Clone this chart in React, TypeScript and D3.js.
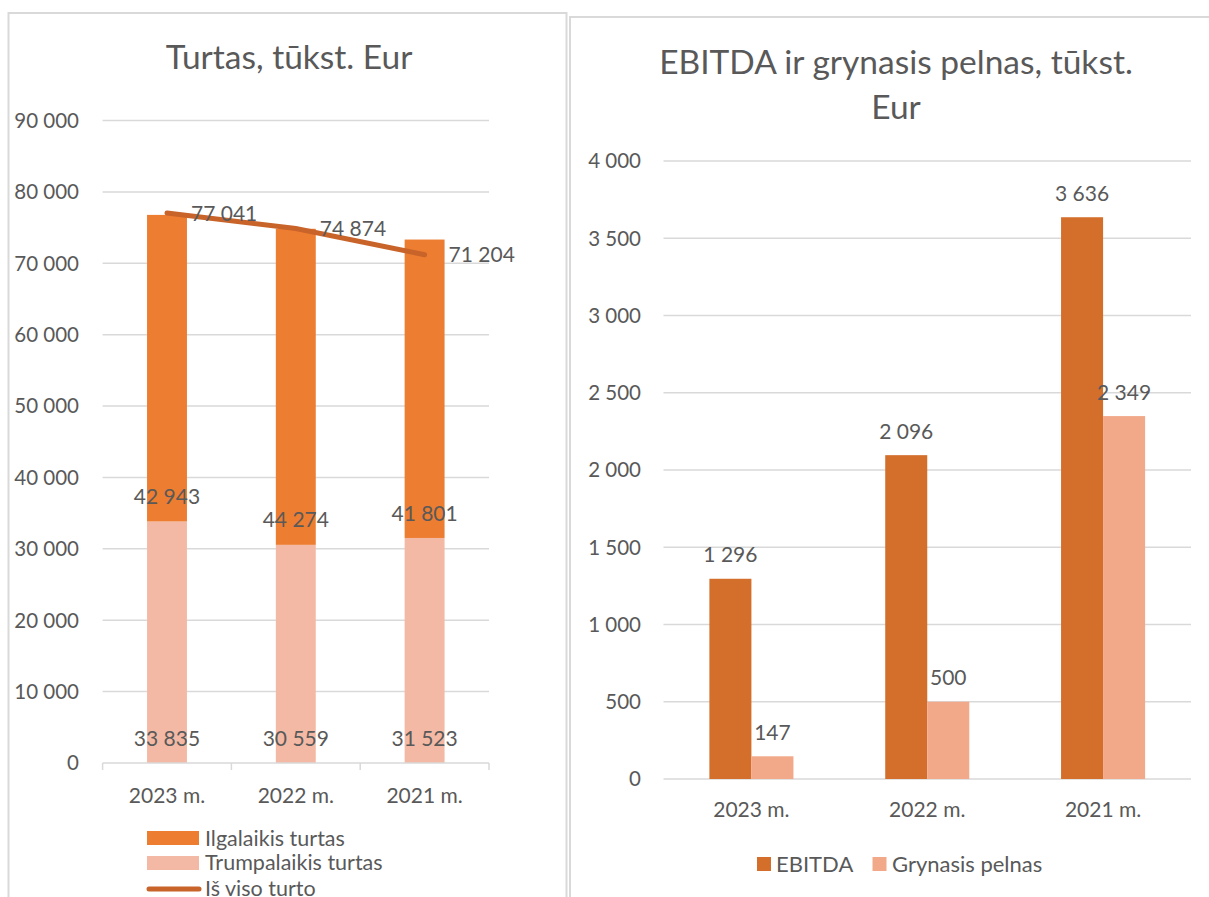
import React from "react";
import * as d3 from "d3";

// left chart data (tūkst. Eur)
const years = ["2023 m.", "2022 m.", "2021 m."];
const ilgalaikis = [42943, 44274, 41801];
const trumpalaikis = [33835, 30559, 31523];
const isViso = [77041, 74874, 71204];
const turtasTicks = [0, 10000, 20000, 30000, 40000, 50000, 60000, 70000, 80000, 90000];

// right chart data
const ebitda = [1296, 2096, 3636];
const grynasis = [147, 500, 2349];
const pelnasTicks = [0, 500, 1000, 1500, 2000, 2500, 3000, 3500, 4000];

const FONT = "Lato, 'Noto Sans', sans-serif";
const TEXT = "#595959";
const GRID = "#d9d9d9";
const C_ILG = "#ed7d31";
const C_TRUMP = "#f4b9a5";
const C_LINE = "#c8632a";
const C_EBITDA = "#d36e2b";
const C_GRYN = "#f1a98a";

const fmt = d3.formatLocale({
  decimal: ",",
  thousands: " ",
  grouping: [3],
  currency: ["", ""],
}).format(",d");

const TurtasChart = () => {
  const x = d3.scaleBand<string>().domain(years).range([102.6, 489]);
  const y = d3.scaleLinear().domain([0, 90000]).range([763, 120.5]);
  const barW = x.bandwidth() * 0.31;
  const cx = (c: string) => (x(c) as number) + x.bandwidth() / 2;

  const line = d3
    .line<number>()
    .x((_, i) => cx(years[i]))
    .y((d) => y(d));

  return (
    <g fontFamily={FONT} fill={TEXT}>
      <rect x={8.5} y={13} width={558} height={900} fill="#fff" stroke={GRID} strokeWidth={2} />
      <text x={289} y={69} textAnchor="middle" fontSize={33.5}>
        Turtas, tūkst. Eur
      </text>
      {turtasTicks.map((t) => (
        <g key={t}>
          {t > 0 && <line x1={102.6} x2={489} y1={y(t)} y2={y(t)} stroke={GRID} strokeWidth={1.5} />}
          <text x={79} y={y(t)} dy="0.36em" textAnchor="end" fontSize={20.5}>
            {fmt(t)}
          </text>
        </g>
      ))}
      {years.map((c, i) => (
        <g key={c}>
          <rect x={cx(c) - barW / 2} y={y(trumpalaikis[i])} width={barW} height={y(0) - y(trumpalaikis[i])} fill={C_TRUMP} />
          <rect
            x={cx(c) - barW / 2}
            y={y(trumpalaikis[i] + ilgalaikis[i])}
            width={barW}
            height={y(trumpalaikis[i]) - y(trumpalaikis[i] + ilgalaikis[i])}
            fill={C_ILG}
          />
        </g>
      ))}
      <line x1={102.6} x2={489} y1={y(0)} y2={y(0)} stroke={GRID} strokeWidth={1.5} />
      {[0, 1, 2, 3].map((i) => {
        const tx = 102.6 + x.step() * i;
        return <line key={i} x1={tx} x2={tx} y1={y(0)} y2={y(0) + 7} stroke={GRID} strokeWidth={1.5} />;
      })}
      <path d={line(isViso) || ""} fill="none" stroke={C_LINE} strokeWidth={5} strokeLinecap="round" />
      {years.map((c, i) => (
        <g key={c} fontSize={21}>
          <text x={cx(c)} y={y(trumpalaikis[i]) - 25} dy="0.36em" textAnchor="middle">
            {fmt(ilgalaikis[i])}
          </text>
          <text x={cx(c)} y={y(0) - 25} dy="0.36em" textAnchor="middle">
            {fmt(trumpalaikis[i])}
          </text>
          <text x={cx(c) + 24} y={y(isViso[i])} dy="0.36em">
            {fmt(isViso[i])}
          </text>
          <text x={cx(c)} y={795} dy="0.36em" textAnchor="middle" fontSize={21}>
            {c}
          </text>
        </g>
      ))}
      <g fontSize={21.5}>
        <rect x={147} y={831} width={52} height={14} fill={C_ILG} />
        <text x={205} y={838} dy="0.36em">Ilgalaikis turtas</text>
        <rect x={147} y={856} width={52} height={14} fill={C_TRUMP} />
        <text x={205} y={862.5} dy="0.36em">Trumpalaikis turtas</text>
        <line x1={149} x2={199} y1={889} y2={889} stroke={C_LINE} strokeWidth={5} strokeLinecap="round" />
        <text x={205} y={888} dy="0.36em">Iš viso turto</text>
      </g>
    </g>
  );
};

const PelnasChart = () => {
  const x = d3.scaleBand<string>().domain(years).range([663.5, 1191]);
  const y = d3.scaleLinear().domain([0, 4000]).range([779, 161]);
  const barW = x.step() * 0.239;
  const cx = (c: string) => (x(c) as number) + x.bandwidth() / 2;

  return (
    <g fontFamily={FONT} fill={TEXT}>
      <rect x={570} y={17} width={660} height={900} fill="#fff" stroke={GRID} strokeWidth={2} />
      <text x={896} y={74} textAnchor="middle" fontSize={33.5}>
        EBITDA ir grynasis pelnas, tūkst.
      </text>
      <text x={896} y={119} textAnchor="middle" fontSize={33.5}>
        Eur
      </text>
      {pelnasTicks.map((t) => (
        <g key={t}>
          <line x1={663.5} x2={1191} y1={y(t)} y2={y(t)} stroke={GRID} strokeWidth={1.5} />
          <text x={641} y={y(t)} dy="0.36em" textAnchor="end" fontSize={20.5}>
            {fmt(t)}
          </text>
        </g>
      ))}
      {years.map((c, i) => (
        <g key={c} fontSize={21}>
          <rect x={cx(c) - barW} y={y(ebitda[i])} width={barW} height={y(0) - y(ebitda[i])} fill={C_EBITDA} />
          <rect x={cx(c)} y={y(grynasis[i])} width={barW} height={y(0) - y(grynasis[i])} fill={C_GRYN} />
          <text x={cx(c) - barW / 2} y={y(ebitda[i]) - 24} dy="0.36em" textAnchor="middle">
            {fmt(ebitda[i])}
          </text>
          <text x={cx(c) + barW / 2} y={y(grynasis[i]) - 24} dy="0.36em" textAnchor="middle">
            {fmt(grynasis[i])}
          </text>
          <text x={cx(c)} y={809} dy="0.36em" textAnchor="middle">
            {c}
          </text>
        </g>
      ))}
      <g fontSize={22}>
        <rect x={757} y={857} width={14} height={14} fill={C_EBITDA} />
        <text x={776} y={864} dy="0.36em">EBITDA</text>
        <rect x={872.5} y={857} width={14} height={14} fill={C_GRYN} />
        <text x={892} y={864} dy="0.36em">Grynasis pelnas</text>
      </g>
    </g>
  );
};

export default function App() {
  return (
    <svg
      width={1209}
      height={897}
      style={{ position: "absolute", left: 0, top: 0, background: "#fff" }}
    >
      <TurtasChart />
      <PelnasChart />
    </svg>
  );
}
